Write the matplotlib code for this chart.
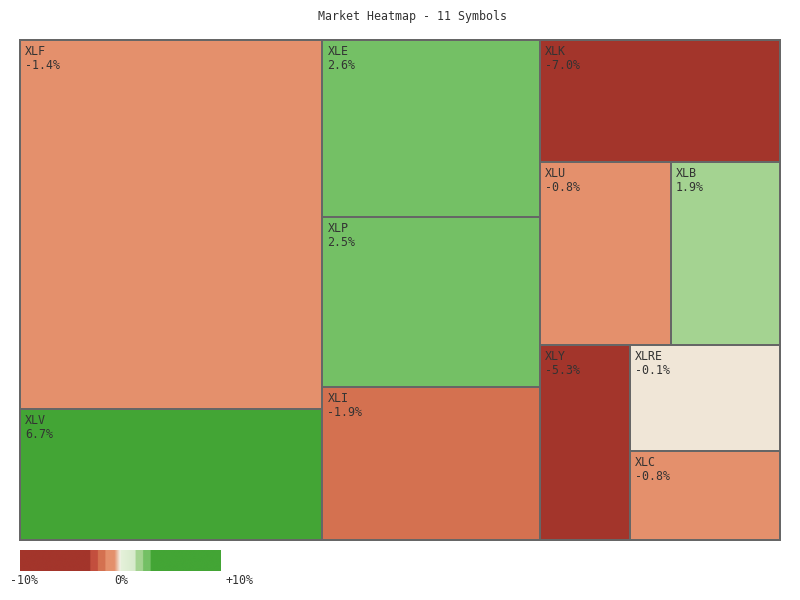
import matplotlib
matplotlib.use("Agg")
import matplotlib.pyplot as plt
from matplotlib.patches import Rectangle
from matplotlib.colors import LinearSegmentedColormap, Normalize
import numpy as np

# ---------------- data ----------------
symbols = ["XLF", "XLV", "XLE", "XLP", "XLI", "XLK", "XLU", "XLB", "XLY", "XLRE", "XLC"]
weights = [29.40, 10.40, 10.12, 9.77, 8.75, 7.68, 6.31, 5.27, 4.62, 4.18, 3.51]
changes = [-1.4, 6.7, 2.6, 2.5, -1.9, -7.0, -0.8, 1.9, -5.3, -0.1, -0.8]
strip_counts = [2, 3, 1, 2, 1, 2]   # items per treemap strip
legend_ticks = [-10, 0, 10]
legend_labels = ["-10%", "0%", "+10%"]
title = "Market Heatmap - 11 Symbols"

# ---------------- colour scale ----------------
stops = [(-10, '#a3352b'), (-3, '#a3352b'), (-3, '#c34f3e'), (-2.25, '#c34f3e'),
         (-2.25, '#d47150'), (-1.5, '#d47150'), (-1.5, '#e4906c'), (-0.6, '#e4906c'),
         (-0.1, '#f0e6d8'), (0, '#f7f5ef'), (0, '#e6f1db'), (1.5, '#d6eacb'),
         (1.5, '#a4d391'), (2.25, '#a4d391'), (2.25, '#74c065'), (3, '#74c065'),
         (3, '#43a535'), (10, '#43a535')]
cmap = LinearSegmentedColormap.from_list(
    "heat", [((v + 10) / 20.0, c) for v, c in stops], N=2048)
norm = Normalize(-10, 10)

FONT = "DejaVu Sans Mono"
FS = 8.4
TXT = "#333333"
EDGE = "#666666"


def strip_treemap(values, counts, x, y, w, h):
    rects = []
    total = float(sum(values))
    i = 0
    for c in counts:
        group = values[i:i + c]
        s = float(sum(group))
        frac = s / total
        # vertical strip on the left
        col, yy, sw = [], y, w * frac
        for v in group:
            hh = h * v / s
            col.append((x, yy, sw, hh))
            yy += hh
        # horizontal strip on top
        row, xx, sh = [], x, h * frac
        for v in group:
            ww = w * v / s
            row.append((xx, y, ww, sh))
            xx += ww

        def worst(rs):
            return max(max(r[2] / r[3], r[3] / r[2]) for r in rs)

        if worst(col) <= worst(row):
            rects += col
            x += sw
            w -= sw
        else:
            rects += row
            y += sh
            h -= sh
        total -= s
        i += c
    return rects


fig = plt.figure(figsize=(8, 6), dpi=100)
fig.patch.set_facecolor("white")

AREA_W, AREA_H = 760.0, 500.0
ax = fig.add_axes([20 / 800, 60 / 600, 760 / 800, 500 / 600])
ax.set_xlim(0, AREA_W)
ax.set_ylim(AREA_H, 0)
ax.axis("off")

rects = strip_treemap(weights, strip_counts, 0, 0, AREA_W, AREA_H)
px = 72.0 / 100.0  # points per pixel
for (rx, ry, rw, rh), sym, ch in zip(rects, symbols, changes):
    ax.add_patch(Rectangle((rx, ry), rw, rh, facecolor=cmap(norm(ch)),
                           edgecolor=EDGE, linewidth=2 * px, clip_on=False))
    ax.annotate(sym, (rx, ry), xytext=(5 * px, -15 * px), textcoords="offset points",
                ha="left", va="baseline", fontsize=FS, family=FONT, color=TXT)
    ax.annotate(f"{ch:.1f}%", (rx, ry), xytext=(5 * px, -29 * px), textcoords="offset points",
                ha="left", va="baseline", fontsize=FS, family=FONT, color=TXT)

fig.text(412.5 / 800, 1 - 20 / 600, title, ha="center", va="baseline",
         fontsize=FS, family=FONT, color=TXT)

# legend colour bar
lax = fig.add_axes([20 / 800, (600 - 571) / 600, 200 / 800, 21 / 600])
grad = np.linspace(-10, 10, 800).reshape(1, -1)
lax.imshow(grad, cmap=cmap, norm=norm, aspect="auto", extent=(-10, 10, 0, 1))
lax.set_xlim(-10, 10)
lax.set_ylim(0, 1)
lax.axis("off")
offsets = [(-10, "left"), (1.5, "center"), (5, "left")]
for t, lab, (dx, ha) in zip(legend_ticks, legend_labels, offsets):
    lax.annotate(lab, (t, 0), xytext=(dx * px, -13.5 * px), textcoords="offset points",
                 ha=ha, va="baseline", fontsize=FS, family=FONT, color=TXT,
                 annotation_clip=False)

fig.savefig("out.png", dpi=100, facecolor="white")
